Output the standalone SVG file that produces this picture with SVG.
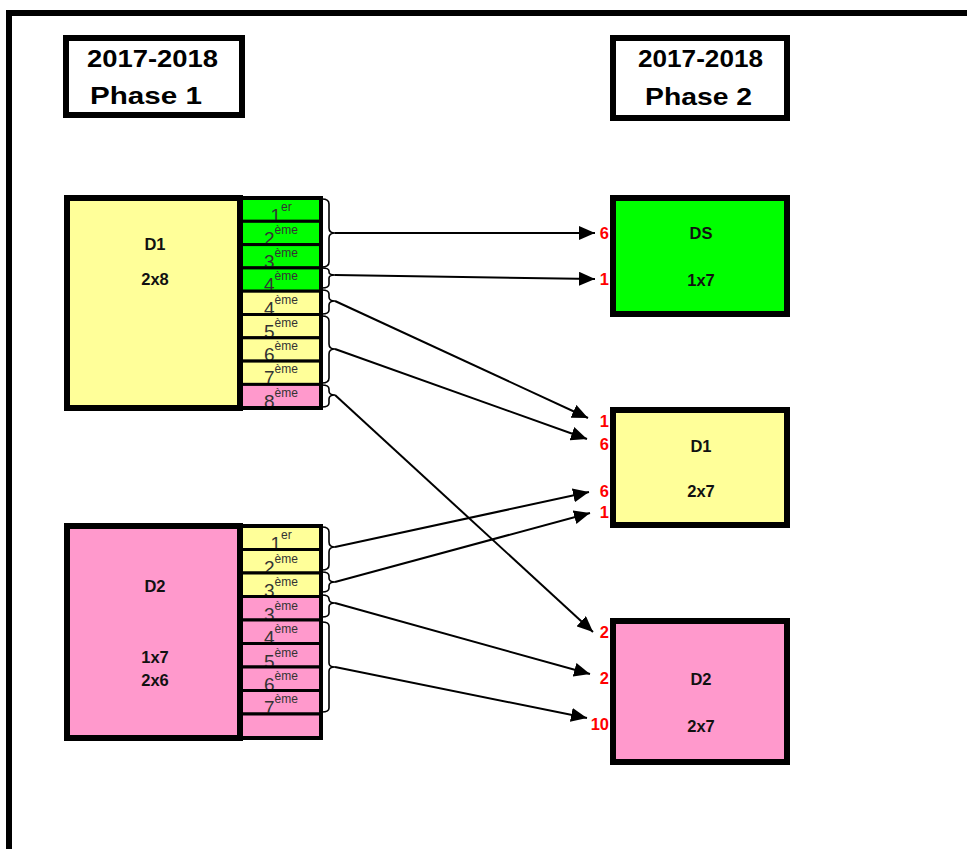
<svg xmlns="http://www.w3.org/2000/svg" width="967" height="849" viewBox="0 0 967 849">
<style>
.hdr{fill:#fff;stroke:#000;stroke-width:6}
.ht{font-family:"Liberation Sans",Arial,sans-serif;font-weight:bold;font-size:24px;fill:#000}
.blk{stroke:#000;stroke-width:6}
.cell{stroke:#000;stroke-width:3}
.g{fill:#00ff00}.y{fill:#ffff99}.p{fill:#ff99cc}
.lbl{font-family:"Liberation Sans",Arial,sans-serif;font-weight:bold;font-size:16.5px;fill:#111;text-anchor:middle}
.ct{font-family:"Liberation Sans",Arial,sans-serif;fill:#333;text-anchor:middle}
.d{font-size:19px}.s{font-size:12px}
.num{font-family:"Liberation Sans",Arial,sans-serif;font-weight:bold;font-size:16.5px;fill:#ff0000;text-anchor:end}
.br{fill:none;stroke:#000;stroke-width:1.6}
.cn{stroke:#000;stroke-width:2;fill:none;marker-end:url(#ah)}
</style>
<defs>
<marker id="ah" markerUnits="userSpaceOnUse" markerWidth="16" markerHeight="14" refX="16" refY="7" orient="auto">
<path d="M0,0 L16,7 L0,14 z" fill="#000"/>
</marker>
</defs>
<g id="frame">
<line x1="6" y1="13" x2="967" y2="13" stroke="#000" stroke-width="6"/>
<line x1="9" y1="10" x2="9" y2="849" stroke="#000" stroke-width="6"/>
</g>
<g id="header1">
<rect class="hdr" x="66" y="38" width="176" height="77"/>
<text class="ht" x="87" y="67" textLength="131" lengthAdjust="spacingAndGlyphs">2017-2018</text>
<text class="ht" x="90" y="104" textLength="112" lengthAdjust="spacingAndGlyphs">Phase 1</text>
</g>
<g id="header2">
<rect class="hdr" x="613" y="38" width="174" height="80"/>
<text class="ht" x="638" y="67" textLength="125" lengthAdjust="spacingAndGlyphs">2017-2018</text>
<text class="ht" x="645" y="105" textLength="107" lengthAdjust="spacingAndGlyphs">Phase 2</text>
</g>
<g id="left-D1">
<rect class="blk y" x="67" y="198" width="173" height="210"/>
<text class="lbl" x="155" y="250">D1</text>
<text class="lbl" x="155" y="285">2x8</text>
<g id="left-D1-cells">
<rect class="cell g" x="241" y="198" width="80" height="23.3"/>
<text class="ct" x="281" y="222"><tspan class="d">1</tspan><tspan class="s" dy="-11">er</tspan></text>
<rect class="cell g" x="241" y="221.3" width="80" height="23.3"/>
<text class="ct" x="281" y="245"><tspan class="d">2</tspan><tspan class="s" dy="-11">ème</tspan></text>
<rect class="cell g" x="241" y="244.6" width="80" height="23.3"/>
<text class="ct" x="281" y="268"><tspan class="d">3</tspan><tspan class="s" dy="-11">ème</tspan></text>
<rect class="cell g" x="241" y="267.9" width="80" height="23.3"/>
<text class="ct" x="281" y="291"><tspan class="d">4</tspan><tspan class="s" dy="-11">ème</tspan></text>
<rect class="cell y" x="241" y="291.2" width="80" height="23.3"/>
<text class="ct" x="281" y="315"><tspan class="d">4</tspan><tspan class="s" dy="-11">ème</tspan></text>
<rect class="cell y" x="241" y="314.5" width="80" height="23.3"/>
<text class="ct" x="281" y="338"><tspan class="d">5</tspan><tspan class="s" dy="-11">ème</tspan></text>
<rect class="cell y" x="241" y="337.8" width="80" height="23.3"/>
<text class="ct" x="281" y="361"><tspan class="d">6</tspan><tspan class="s" dy="-11">ème</tspan></text>
<rect class="cell y" x="241" y="361.1" width="80" height="23.3"/>
<text class="ct" x="281" y="384"><tspan class="d">7</tspan><tspan class="s" dy="-11">ème</tspan></text>
<rect class="cell p" x="241" y="384.4" width="80" height="23.6"/>
<text class="ct" x="281" y="408"><tspan class="d">8</tspan><tspan class="s" dy="-11">ème</tspan></text>
<rect x="241" y="198" width="80" height="210" fill="none" stroke="#000" stroke-width="4"/>
</g>
</g>
<g id="left-D2">
<rect class="blk p" x="67" y="526" width="173" height="212"/>
<text class="lbl" x="155" y="592">D2</text>
<text class="lbl" x="155" y="663">1x7</text>
<text class="lbl" x="155" y="686">2x6</text>
<g id="left-D2-cells">
<rect class="cell y" x="241" y="526" width="80" height="23.5"/>
<text class="ct" x="281" y="550"><tspan class="d">1</tspan><tspan class="s" dy="-11">er</tspan></text>
<rect class="cell y" x="241" y="549.5" width="80" height="23.5"/>
<text class="ct" x="281" y="574"><tspan class="d">2</tspan><tspan class="s" dy="-11">ème</tspan></text>
<rect class="cell y" x="241" y="573" width="80" height="23.5"/>
<text class="ct" x="281" y="597"><tspan class="d">3</tspan><tspan class="s" dy="-11">ème</tspan></text>
<rect class="cell p" x="241" y="596.5" width="80" height="23.5"/>
<text class="ct" x="281" y="621"><tspan class="d">3</tspan><tspan class="s" dy="-11">ème</tspan></text>
<rect class="cell p" x="241" y="620" width="80" height="23.5"/>
<text class="ct" x="281" y="644"><tspan class="d">4</tspan><tspan class="s" dy="-11">ème</tspan></text>
<rect class="cell p" x="241" y="643.5" width="80" height="23.5"/>
<text class="ct" x="281" y="668"><tspan class="d">5</tspan><tspan class="s" dy="-11">ème</tspan></text>
<rect class="cell p" x="241" y="667" width="80" height="23.5"/>
<text class="ct" x="281" y="691"><tspan class="d">6</tspan><tspan class="s" dy="-11">ème</tspan></text>
<rect class="cell p" x="241" y="690.5" width="80" height="23.5"/>
<text class="ct" x="281" y="714"><tspan class="d">7</tspan><tspan class="s" dy="-11">ème</tspan></text>
<rect class="cell p" x="241" y="714" width="80" height="24"/>
<rect x="241" y="526" width="80" height="212" fill="none" stroke="#000" stroke-width="4"/>
</g>
</g>
<g id="right-DS">
<rect class="blk g" x="613" y="198" width="174" height="116"/>
<text class="lbl" x="701" y="239">DS</text>
<text class="lbl" x="701" y="286">1x7</text>
<text class="num" x="609" y="239">6</text>
<text class="num" x="609" y="285">1</text>
</g>
<g id="right-D1">
<rect class="blk y" x="613" y="410" width="174" height="115"/>
<text class="lbl" x="701" y="452">D1</text>
<text class="lbl" x="701" y="497">2x7</text>
<text class="num" x="609" y="427">1</text>
<text class="num" x="609" y="450">6</text>
<text class="num" x="609" y="497">6</text>
<text class="num" x="609" y="518">1</text>
</g>
<g id="right-D2">
<rect class="blk p" x="613" y="621" width="174" height="141"/>
<text class="lbl" x="701" y="685">D2</text>
<text class="lbl" x="701" y="732">2x7</text>
<text class="num" x="609" y="638">2</text>
<text class="num" x="609" y="684">2</text>
<text class="num" x="609" y="730">10</text>
</g>
<g id="connectors">
<path class="br" d="M322,199 Q329,199 329,204 L329,228 Q329,233 335,233 Q329,233 329,238 L329,262 Q329,267 322,267"/>
<path class="br" d="M322,268 Q329,268 329,271 L329,272 Q329,275 335,275 Q329,275 329,278 L329,284 Q329,288 322,288"/>
<path class="br" d="M322,290 Q329,290 329,294 L329,297 Q329,301 335,301 Q329,301 329,305 L329,310 Q329,314 322,314"/>
<path class="br" d="M322,316 Q329,316 329,321 L329,344 Q329,349 335,349 Q329,349 329,354 L329,378 Q329,383 322,383"/>
<path class="br" d="M322,385 Q329,385 329,389 L329,391 Q329,395 335,395 Q329,395 329,399 L329,403 Q329,407 322,407"/>
<path class="br" d="M322,527 Q329,527 329,532 L329,542 Q329,547 335,547 Q329,547 329,552 L329,565 Q329,570 322,570"/>
<path class="br" d="M322,572 Q329,572 329,576 L329,578 Q329,582 335,582 Q329,582 329,586 L329,588 Q329,592 322,592"/>
<path class="br" d="M322,595 Q329,595 329,599 L329,599 Q329,603 335,603 Q329,603 329,607 L329,613 Q329,617 322,617"/>
<path class="br" d="M322,622 Q329,622 329,626 L329,663 Q329,667 335,667 Q329,667 329,671 L329,708 Q329,712 322,712"/>
<line class="cn" x1="335" y1="233" x2="595" y2="233"/>
<line class="cn" x1="335" y1="275" x2="595" y2="279"/>
<line class="cn" x1="335" y1="301" x2="588" y2="418"/>
<line class="cn" x1="335" y1="349" x2="587" y2="439"/>
<line class="cn" x1="335" y1="395" x2="593" y2="632"/>
<line class="cn" x1="335" y1="547" x2="589" y2="492"/>
<line class="cn" x1="335" y1="582" x2="590" y2="513"/>
<line class="cn" x1="335" y1="603" x2="590" y2="674"/>
<line class="cn" x1="335" y1="667" x2="587" y2="718"/>
</g>
</svg>
